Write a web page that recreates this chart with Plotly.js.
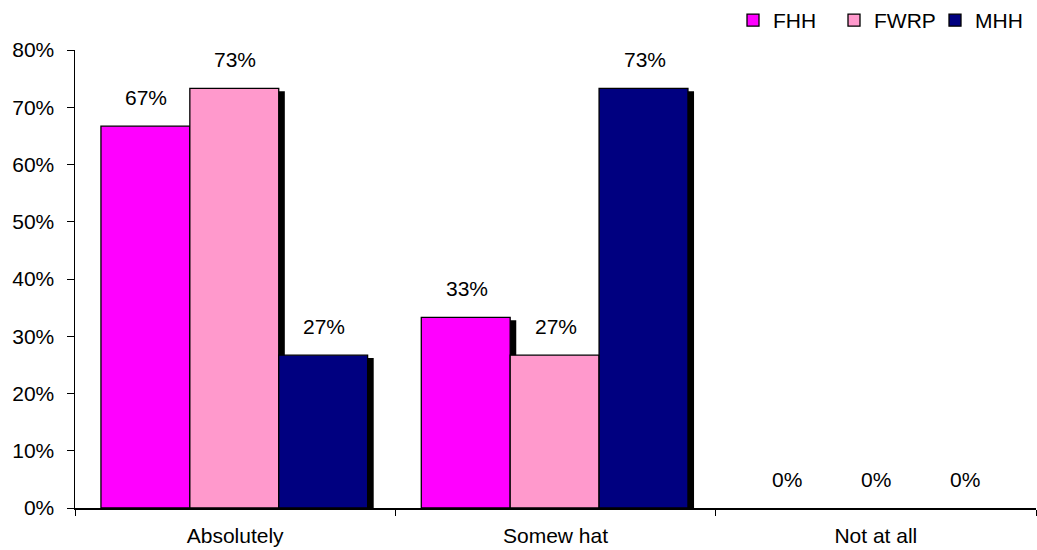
<!DOCTYPE html>
<html><head><meta charset="utf-8">
<script src="https://cdn.plot.ly/plotly-3.0.1.min.js"></script>
<style>html,body{margin:0;padding:0;background:#fff}</style>
</head><body>
<div id="chart" style="width:1037px;height:550px"></div>
<script>
const categories = ["Absolutely", "Somew hat", "Not at all"];
const seriesNames = ["FHH", "FWRP", "MHH"];
const fhh  = [0.667, 0.333, 0];
const fwrp = [0.733, 0.267, 0];
const mhh  = [0.267, 0.733, 0];
const valueLabels = [["67%","33%","0%"],["73%","27%","0%"],["27%","73%","0%"]];

const series = [fhh, fwrp, mhh];
const colors = ["#FF00FF", "#FF99CC", "#000080"];
const barW = 0.2775;
const offsets = [-0.419, -0.1415, 0.136];
const pxShift = [-89, 0, 89];
const FONT = "Liberation Sans, Arial, sans-serif";

const traces = [];
// shadows first
series.forEach((vals, i) => {
  traces.push({
    type: "bar", x: categories, y: vals, base: -0.005,
    width: barW, offset: offsets[i] + 0.019,
    marker: {color: "#000000", line: {width: 0}},
    showlegend: false, hoverinfo: "skip"
  });
});
series.forEach((vals, i) => {
  traces.push({
    type: "bar", name: seriesNames[i], x: categories, y: vals,
    width: barW, offset: offsets[i],
    marker: {color: colors[i], line: {color: "#000000", width: vals.map(v => v > 0 ? 1.3 : 0)}}
  });
});

const annotations = [];
series.forEach((vals, i) => {
  vals.forEach((v, j) => {
    annotations.push({
      x: categories[j], y: v, text: valueLabels[i][j], showarrow: false,
      xshift: pxShift[i], yshift: 29, yanchor: "middle",
      font: {family: FONT, size: 21, color: "#000"}
    });
  });
});

const layout = {
  width: 1037, height: 550,
  margin: {l: 75, r: 1, t: 50, b: 42},
  barmode: "overlay",
  paper_bgcolor: "#fff", plot_bgcolor: "#fff",
  font: {family: FONT, size: 21, color: "#000"},
  xaxis: {
    type: "category", range: [-0.5, 2.5],
    showline: true, linecolor: "#000", linewidth: 1.5,
    ticks: "outside", tickson: "boundaries", ticklen: 6, tickcolor: "#000",
    ticklabelstandoff: 8,
    showgrid: false, zeroline: false,
    tickfont: {size: 21}
  },
  yaxis: {
    range: [0, 0.8], dtick: 0.1, tickformat: ".0%",
    showline: true, linecolor: "#000", linewidth: 1.5,
    ticks: "outside", ticklen: 7, tickcolor: "#000",
    ticklabelstandoff: 8,
    showgrid: false, zeroline: false,
    tickfont: {size: 21}
  },
  legend: {
    orientation: "h", x: 1, xanchor: "right", y: 1, yanchor: "top",
    yref: "container", entrywidth: 56, entrywidthmode: "pixels",
    font: {size: 21}, traceorder: "normal"
  },
  annotations: annotations,
  showlegend: true
};

Plotly.newPlot("chart", traces, layout, {displayModeBar: false, staticPlot: true});
</script>
</body></html>
